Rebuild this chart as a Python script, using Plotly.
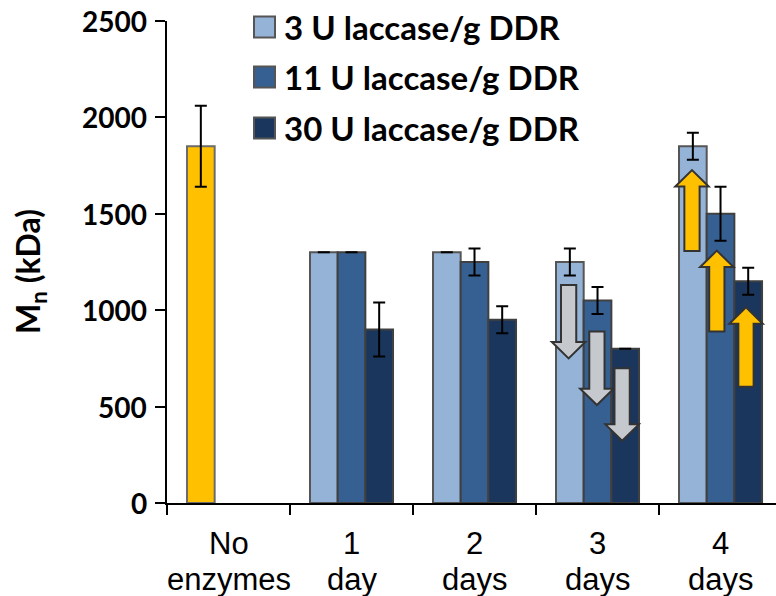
import plotly.graph_objects as go

# ---- data ----
categories = ["No<br>enzymes", "1<br>day", "2<br>days", "3<br>days", "4<br>days"]
series_names = ["3 U laccase/g DDR", "11 U laccase/g DDR", "30 U laccase/g DDR"]
control_value = [1850]
control_err = [210]
u3_values = [None, 1300, 1300, 1250, 1850]
u3_err = [None, 0, 0, 70, 70]
u11_values = [None, 1300, 1250, 1050, 1500]
u11_err = [None, 0, 70, 70, 140]
u30_values = [None, 900, 950, 800, 1150]
u30_err = [None, 140, 70, 0, 70]
y_ticks = [0, 500, 1000, 1500, 2000, 2500]

colors = ["#95B3D7", "#376092", "#1A365D"]
yellow = "#FFC000"
grey_arrow = "#C5C9CE"
outline = "#404040"

x = list(range(len(categories)))
fig = go.Figure()

def err(e):
    return dict(type="data", array=[v if v is not None else 0 for v in e],
                visible=True, color="black", thickness=2, width=6)

fig.add_trace(go.Bar(x=[0], y=control_value, offsetgroup="a", showlegend=False,
                     marker=dict(color=yellow, line=dict(color="#6b6b6b", width=2)),
                     error_y=err(control_err)))
for name, vals, errs, col, og in zip(series_names, [u3_values, u11_values, u30_values],
                                      [u3_err, u11_err, u30_err], colors, ["a", "b", "c"]):
    fig.add_trace(go.Bar(x=x, y=vals, name=name, offsetgroup=og, showlegend=False,
                         marker=dict(color=col, line=dict(color="#555555" if col == colors[0] else outline, width=2)),
                         error_y=err(errs)))

# ---- decorative arrows (category, x offset in category units, start value, end value) ----
arrows = [
    (3, -0.235, 1131, 750, grey_arrow),
    (3, -0.005, 889, 508, grey_arrow),
    (3, 0.200, 699, 323, grey_arrow),
    (4, -0.232, 1307, 1727, yellow),
    (4, -0.030, 889, 1309, yellow),
    (4, 0.207, 603, 1015, yellow),
]
sw, hw, hl = 0.062, 0.136, 85
for cat, off, y0, y1, fill in arrows:
    cx = cat + off
    d = 1 if y1 > y0 else -1
    yb = y1 - d * hl
    path = (f"M{cx-sw},{y0} L{cx-sw},{yb} L{cx-hw},{yb} L{cx},{y1} "
            f"L{cx+hw},{yb} L{cx+sw},{yb} L{cx+sw},{y0} Z")
    fig.add_shape(type="path", path=path, xref="x", yref="y",
                  fillcolor=fill, line=dict(color="#333333", width=2), layer="above")

# screen geometry of the plot area
H = 482.0
L = 167.0
W = 609.0
Y0 = 503.0

# ---- custom legend ----
legend_rows_px = [27, 77, 128]
for name, col, ypx in zip(series_names, colors, legend_rows_px):
    yc = (Y0 - ypx) / H
    fig.add_shape(type="rect", xref="paper", yref="paper",
                  x0=(254 - L) / W, x1=(275 - L) / W, y0=yc - 10.5 / H, y1=yc + 10.5 / H,
                  fillcolor=col, line=dict(color="#555555", width=2))
    fig.add_annotation(x=(282 - L) / W, y=yc, xref="paper", yref="paper",
                       text=name, showarrow=False, xanchor="left", yanchor="middle",
                       font=dict(family="Lato", size=33, color="black", weight="bold"))

# y-axis title
fig.add_annotation(x=(30 - L) / W, y=(Y0 - 272) / H, xref="paper", yref="paper",
                   text="M<sub>n</sub> (kDa)", textangle=-90, showarrow=False,
                   xanchor="center", yanchor="middle",
                   font=dict(family="Lato", size=32, color="black", weight="bold"))

# y tick labels
for v in y_ticks:
    fig.add_annotation(x=(149 - L) / W, y=v, xref="paper", yref="y",
                       text=str(v), showarrow=False, xanchor="right", yanchor="middle",
                       font=dict(family="Lato", size=28, color="black", weight="bold"))

# x category labels (two lines each)
for i, cat in enumerate(categories):
    lines = cat.split("<br>")
    for ln, ypx in zip(lines, [543, 579]):
        fig.add_annotation(x=i, y=(Y0 - ypx) / H, xref="x", yref="paper",
                           text=ln, showarrow=False, xanchor="center", yanchor="middle",
                           font=dict(family="Liberation Sans", size=31, color="black"))

fig.update_layout(
    width=776, height=596,
    margin=dict(l=167, r=0, t=21, b=93),
    paper_bgcolor="white", plot_bgcolor="white",
    barmode="group", bargap=0.325, bargroupgap=0,
    showlegend=False,
    xaxis=dict(range=[-0.5, 4.451], tickvals=x, showticklabels=False, ticks="",
               showline=True, linecolor="black", linewidth=1.5, showgrid=False, zeroline=False,
               automargin=False,
               minor=dict(ticks="outside", ticklen=10, tickwidth=1.5, tickcolor="black",
                          tick0=-0.5, dtick=1, showgrid=False)),
    yaxis=dict(range=[0, 2500], tickvals=y_ticks, showticklabels=False, ticks="outside",
               ticklen=10, tickwidth=1.5,
               tickcolor="black", showline=True, linecolor="black", linewidth=1.5,
               showgrid=False, zeroline=False, automargin=False),
)

fig.write_html("out.html", config={"displayModeBar": False},
               post_script="document.body.style.margin='0';document.body.style.overflow='hidden';")
